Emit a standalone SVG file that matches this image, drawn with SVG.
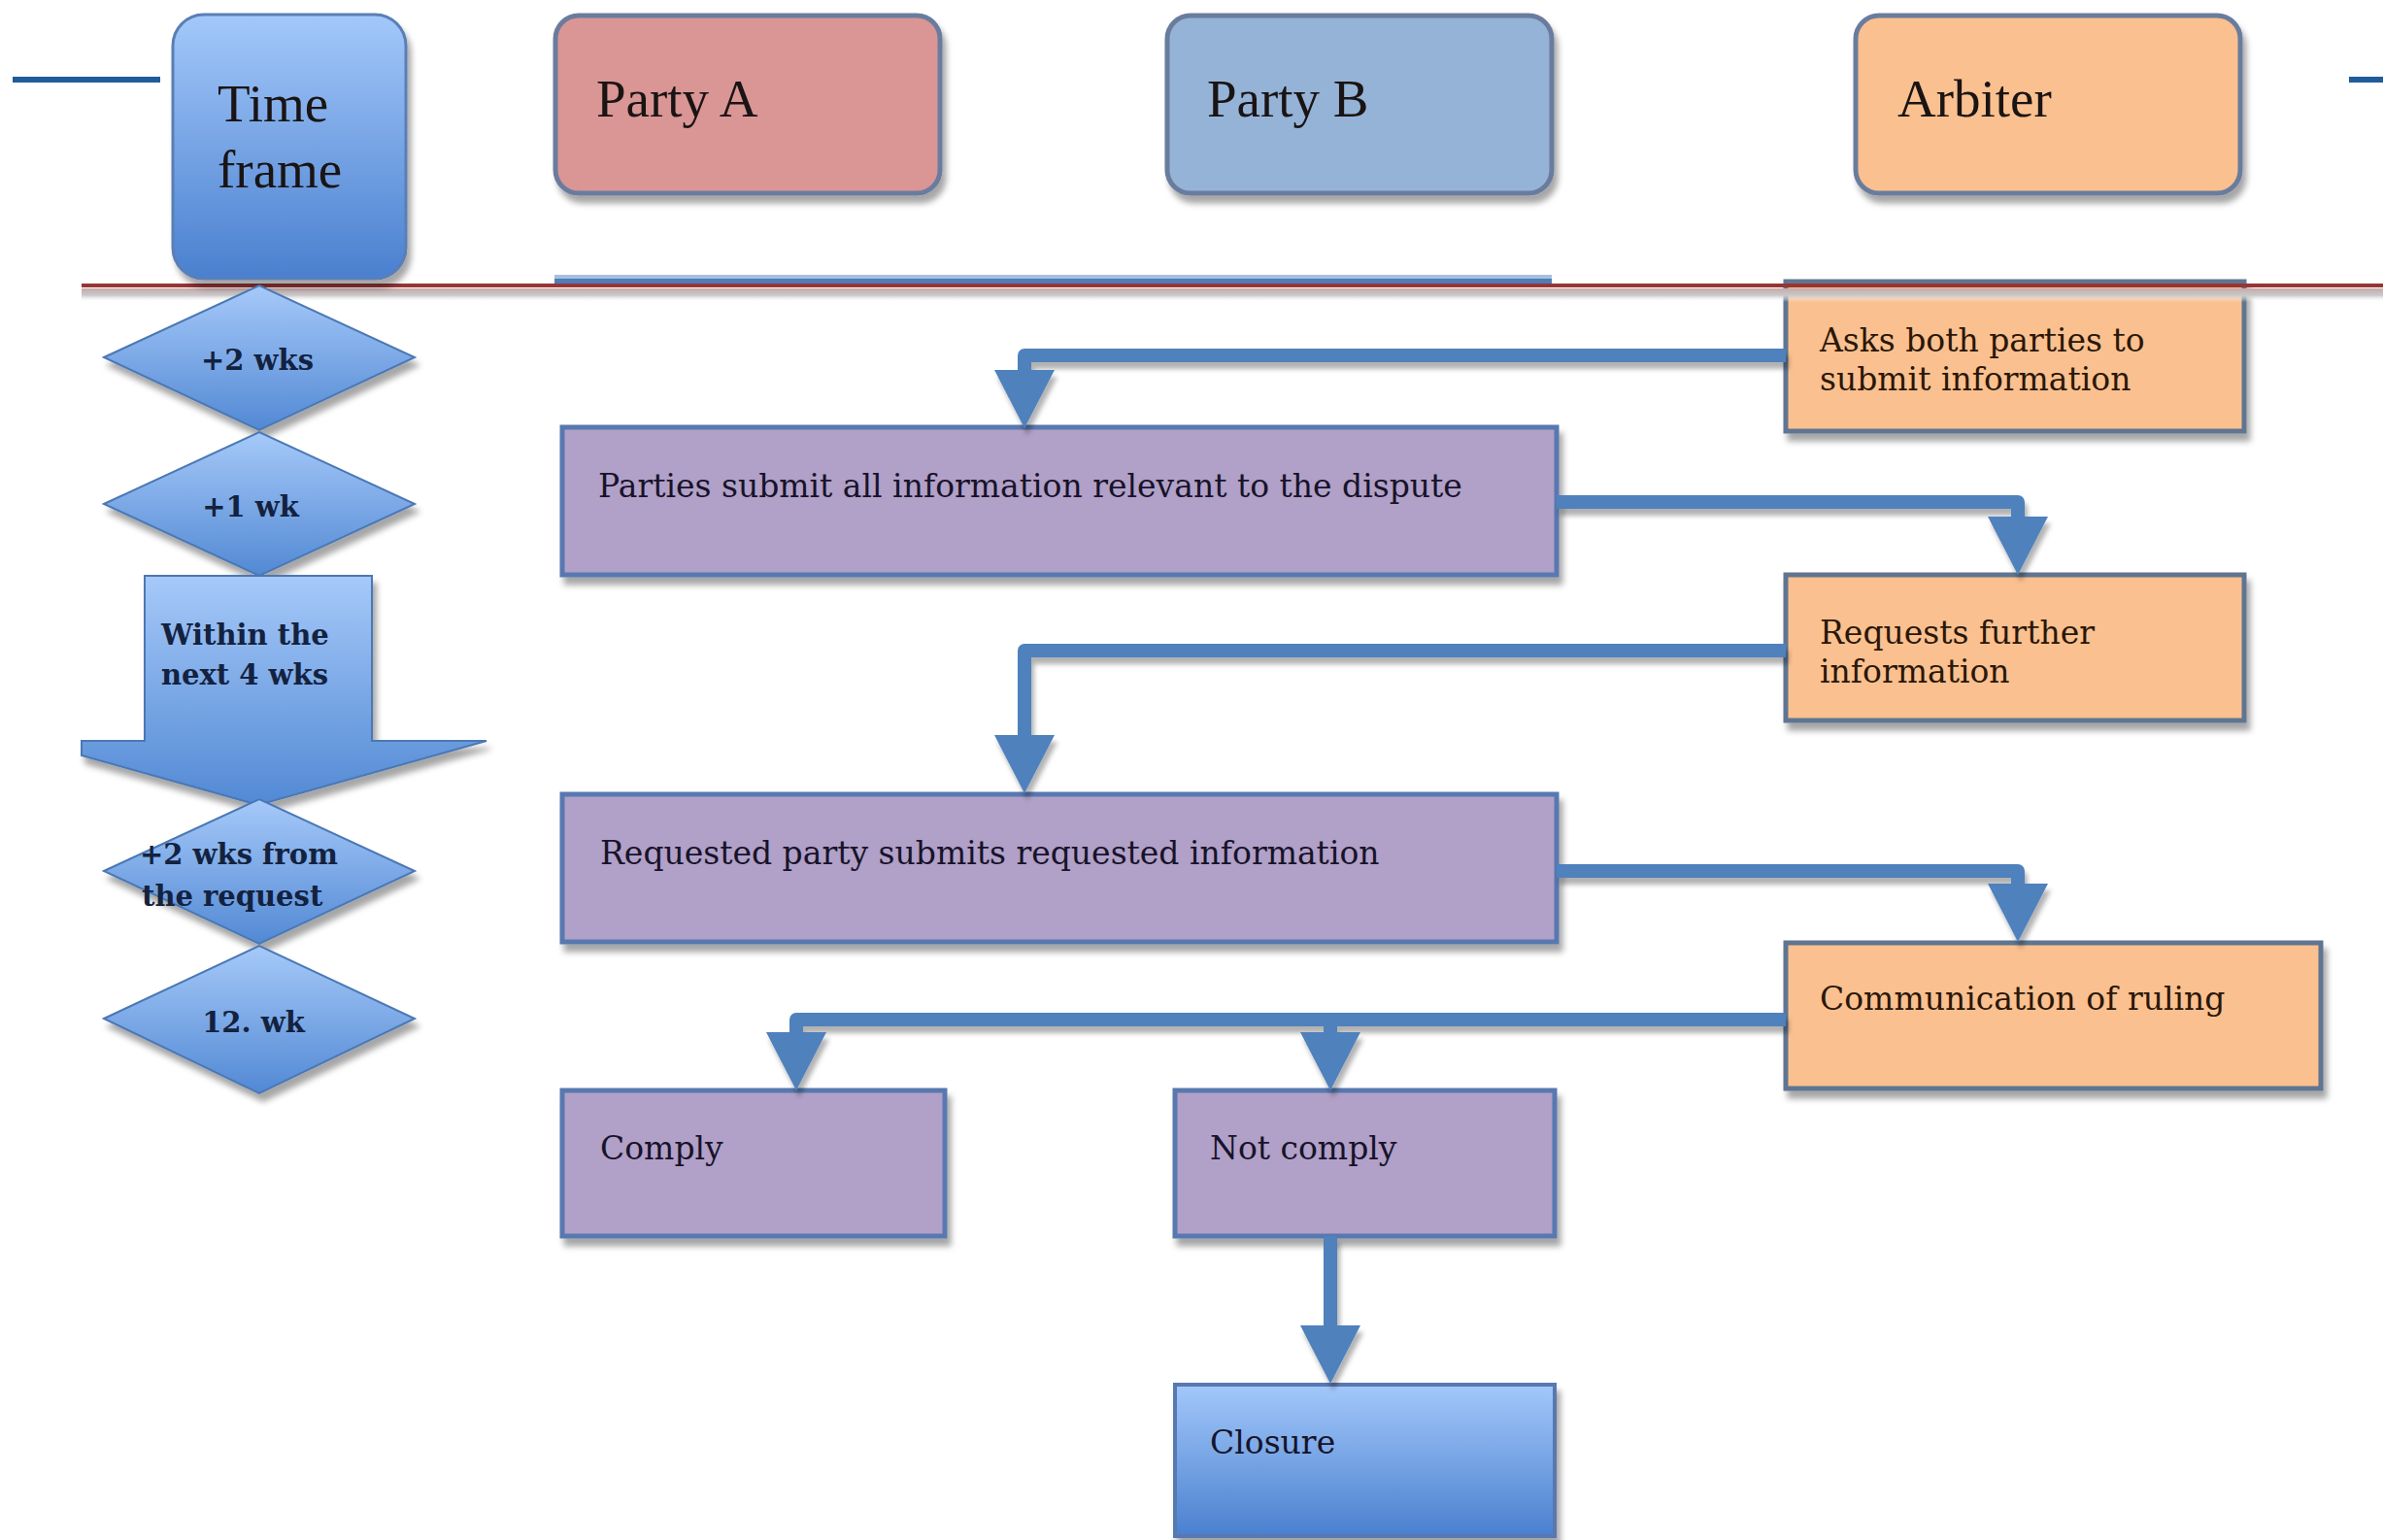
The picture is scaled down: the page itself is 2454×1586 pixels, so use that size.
<svg xmlns="http://www.w3.org/2000/svg" width="2454" height="1586" viewBox="0 0 2454 1586">
<defs>
<linearGradient id="gBlue" x1="0" y1="0" x2="0" y2="1">
<stop offset="0" stop-color="#a3c8fa"/>
<stop offset="1" stop-color="#4a80cf"/>
</linearGradient>
<linearGradient id="gDia" x1="0" y1="0" x2="0" y2="1">
<stop offset="0" stop-color="#a6c9f9"/>
<stop offset="1" stop-color="#5289d4"/>
</linearGradient>
<linearGradient id="gShade" x1="0" y1="0" x2="0" y2="1">
<stop offset="0" stop-color="#c9a9a9"/>
<stop offset="0.5" stop-color="#c8c8c8"/>
<stop offset="1" stop-color="#ffffff" stop-opacity="0"/>
</linearGradient>
<filter id="sh" x="-10%" y="-10%" width="130%" height="140%">
<feDropShadow dx="4" dy="8" stdDeviation="3" flood-color="#000" flood-opacity="0.35"/>
</filter>
<filter id="shs" filterUnits="userSpaceOnUse" x="0" y="0" width="2454" height="1586">
<feDropShadow dx="3" dy="7" stdDeviation="2.5" flood-color="#000" flood-opacity="0.3"/>
</filter>
<marker id="ah" markerUnits="userSpaceOnUse" markerWidth="62" markerHeight="62" viewBox="0 0 62 62" refX="1" refY="31" orient="auto">
<path d="M0,0 L60,31 L0,62 Z" fill="#4f81bd"/>
</marker>
<style>
.hdr{stroke:#6b7c9e;stroke-width:5;filter:url(#sh)}
.hdrtxt{font-family:"Liberation Serif",serif;font-size:55px;fill:#1a1414}
.dia{fill:url(#gDia);stroke:#4b78b4;stroke-width:2;filter:url(#sh)}
.diatxt{font-family:"DejaVu Serif","Liberation Serif",serif;font-size:29px;font-weight:bold;fill:#13223f}
.pur{fill:#b1a0c7;stroke:#5878b0;stroke-width:5;filter:url(#sh)}
.org{fill:#fac08f;stroke:#5f7491;stroke-width:5;filter:url(#sh)}
.btxt{font-family:"DejaVu Serif","Liberation Serif",serif;font-size:33px;fill:#17132a}
.otxt{font-family:"DejaVu Serif","Liberation Serif",serif;font-size:33px;fill:#2a1709}
.conn{fill:none;stroke:#4f81bd;stroke-width:14;stroke-linejoin:round;marker-end:url(#ah)}
</style>
</defs>
<rect width="2454" height="1586" fill="#ffffff"/>

<g id="decor">
<rect x="13" y="79" width="152" height="6" fill="#1f5c99"/>
<rect x="2419" y="79" width="35" height="6" fill="#1f5c99"/>
<rect x="571" y="283" width="1027" height="4" fill="#a8bfdc"/>
<rect x="571" y="287" width="1027" height="5" fill="#4e7db9"/>
</g>

<g id="node-arbiter-ask">
<rect class="org" x="1839" y="290" width="472" height="154"/>
<text class="otxt" x="1874" y="362">Asks both parties to</text>
<text class="otxt" x="1874" y="402">submit information</text>
</g>

<g id="separator">
<rect x="84" y="297" width="2370" height="14" fill="url(#gShade)"/>
<rect x="84" y="292" width="2370" height="4" fill="#963634"/>
</g>

<g id="node-timeframe">
<rect x="178" y="15" width="240" height="272" rx="32" fill="url(#gBlue)" stroke="#5a7fb6" stroke-width="3" filter="url(#sh)"/>
<text class="hdrtxt" x="224" y="125">Time</text>
<text class="hdrtxt" x="224" y="193">frame</text>
</g>

<g id="node-partyA">
<rect class="hdr" x="572" y="16" width="396" height="183" rx="24" fill="#d99694"/>
<text class="hdrtxt" x="614" y="120">Party A</text>
</g>

<g id="node-partyB">
<rect class="hdr" x="1202" y="16" width="396" height="183" rx="24" fill="#95b3d7"/>
<text class="hdrtxt" x="1243" y="120">Party B</text>
</g>

<g id="node-arbiter">
<rect class="hdr" x="1911" y="16" width="396" height="183" rx="24" fill="#fac08f"/>
<text class="hdrtxt" x="1954" y="120">Arbiter</text>
</g>

<g id="node-t1">
<polygon class="dia" points="107,368 267,294 427,368 267,443"/>
<text class="diatxt" x="265" y="381" text-anchor="middle">+2 wks</text>
</g>
<g id="node-t2">
<polygon class="dia" points="107,519 267,445 427,519 267,593"/>
<text class="diatxt" x="258" y="532" text-anchor="middle">+1 wk</text>
</g>
<g id="node-t3">
<polygon class="dia" points="149,593 383,593 383,763 501,763 266,829 84,778 84,763 149,763"/>
<text class="diatxt" x="166" y="664">Within the</text>
<text class="diatxt" x="166" y="705">next 4 wks</text>
</g>
<g id="node-t4">
<polygon class="dia" points="107,897 267,823 427,897 267,972"/>
<text class="diatxt" x="144" y="890">+2 wks from</text>
<text class="diatxt" x="146" y="933">the request</text>
</g>
<g id="node-t5">
<polygon class="dia" points="107,1049 267,974 427,1049 267,1126"/>
<text class="diatxt" x="261" y="1063" text-anchor="middle">12. wk</text>
</g>

<g id="node-submit-all">
<rect class="pur" x="579" y="440" width="1024" height="152"/>
<text class="btxt" x="616" y="512">Parties submit all information relevant to the dispute</text>
</g>

<g id="node-request-further">
<rect class="org" x="1839" y="592" width="472" height="150"/>
<text class="otxt" x="1874" y="663">Requests further</text>
<text class="otxt" x="1874" y="703">information</text>
</g>

<g id="node-submit-requested">
<rect class="pur" x="579" y="818" width="1024" height="152"/>
<text class="btxt" x="618" y="890">Requested party submits requested information</text>
</g>

<g id="node-ruling">
<rect class="org" x="1839" y="971" width="551" height="150"/>
<text class="otxt" x="1874" y="1040">Communication of ruling</text>
</g>

<g id="node-comply">
<rect class="pur" x="579" y="1123" width="394" height="150"/>
<text class="btxt" x="618" y="1194">Comply</text>
</g>

<g id="node-notcomply">
<rect class="pur" x="1210" y="1123" width="391" height="150"/>
<text class="btxt" x="1246" y="1194">Not comply</text>
</g>

<g id="node-closure">
<rect x="1210" y="1426" width="391" height="156" fill="url(#gBlue)" stroke="#5878b0" stroke-width="4" filter="url(#sh)"/>
<text class="btxt" x="1246" y="1497">Closure</text>
</g>

<g id="connectors" filter="url(#shs)">
<path class="conn" d="M1839,366 H1055 V382"/>
<path class="conn" d="M1603,517 H2078 V533"/>
<path class="conn" d="M1839,670 H1055 V758"/>
<path class="conn" d="M1603,897 H2078 V911"/>
<path class="conn" d="M1839,1050 H820 V1064"/>
<path class="conn" d="M1370,1050 V1064"/>
<path class="conn" d="M1370,1273 V1366"/>
</g>
</svg>
